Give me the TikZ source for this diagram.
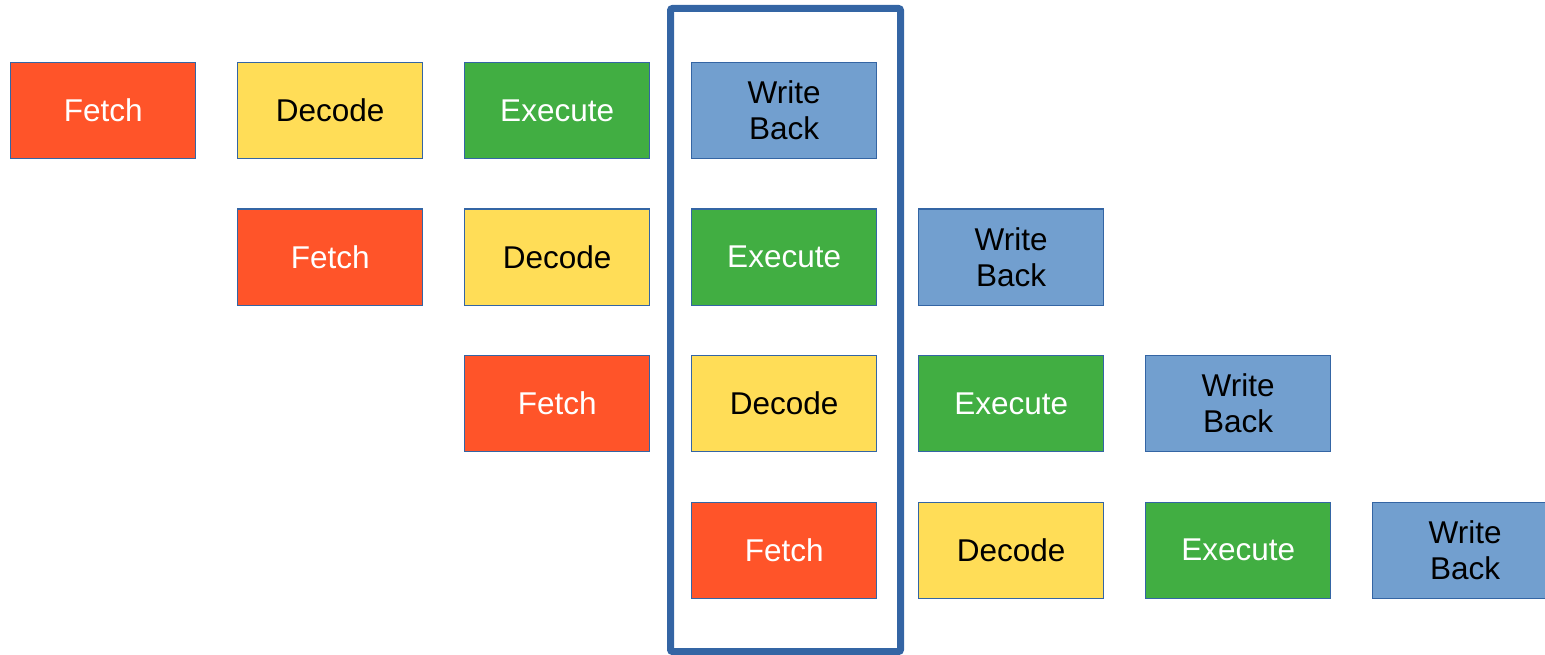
\documentclass[tikz,border=0pt]{standalone}
\usepackage{fontspec}
\setmainfont{Liberation Sans}
\definecolor{fetchred}{HTML}{FF5429}
\definecolor{decodeyellow}{HTML}{FFDD57}
\definecolor{execgreen}{HTML}{41AE42}
\definecolor{wbblue}{HTML}{729FCF}
\definecolor{edgeblue}{HTML}{3465A4}
\tikzset{
  stage/.style={draw=edgeblue, line width=1.3pt, minimum width=185pt, minimum height=96pt,
    inner sep=0pt, anchor=north west, align=center,
    font=\fontsize{31.5}{36}\selectfont},
  fetchbox/.style={stage, fill=fetchred, text=white},
  decodebox/.style={stage, fill=decodeyellow, text=black},
  execbox/.style={stage, fill=execgreen, text=white},
  wbbox/.style={stage, fill=wbblue, text=black},
  frame/.style={draw=edgeblue, line width=7pt, rounded corners=2pt},
}
\begin{document}
\begin{tikzpicture}[x=1pt, y=-1pt]
\useasboundingbox (0,0) rectangle (1545,655);
% instruction 1
\node[fetchbox]  (f1) at (10,62) {Fetch};
\node[decodebox] (d1) at (237,62) {Decode};
\node[execbox]   (e1) at (464,62) {Execute};
\node[wbbox]     (w1) at (691,62) {Write\\Back};
% instruction 2
\node[fetchbox]  (f2) at (237,208.5) {Fetch};
\node[decodebox] (d2) at (464,208.5) {Decode};
\node[execbox]   (e2) at (691,208.5) {Execute};
\node[wbbox]     (w2) at (918,208.5) {Write\\Back};
% instruction 3
\node[fetchbox]  (f3) at (464,355) {Fetch};
\node[decodebox] (d3) at (691,355) {Decode};
\node[execbox]   (e3) at (918,355) {Execute};
\node[wbbox]     (w3) at (1145,355) {Write\\Back};
% instruction 4
\node[fetchbox]  (f4) at (691,501.5) {Fetch};
\node[decodebox] (d4) at (918,501.5) {Decode};
\node[execbox]   (e4) at (1145,501.5) {Execute};
\node[wbbox]     (w4) at (1372,501.5) {Write\\Back};
% one clock cycle: all four stages busy
\draw[frame] (670.5,8.5) rectangle (900.5,651.5);
\end{tikzpicture}
\end{document}
